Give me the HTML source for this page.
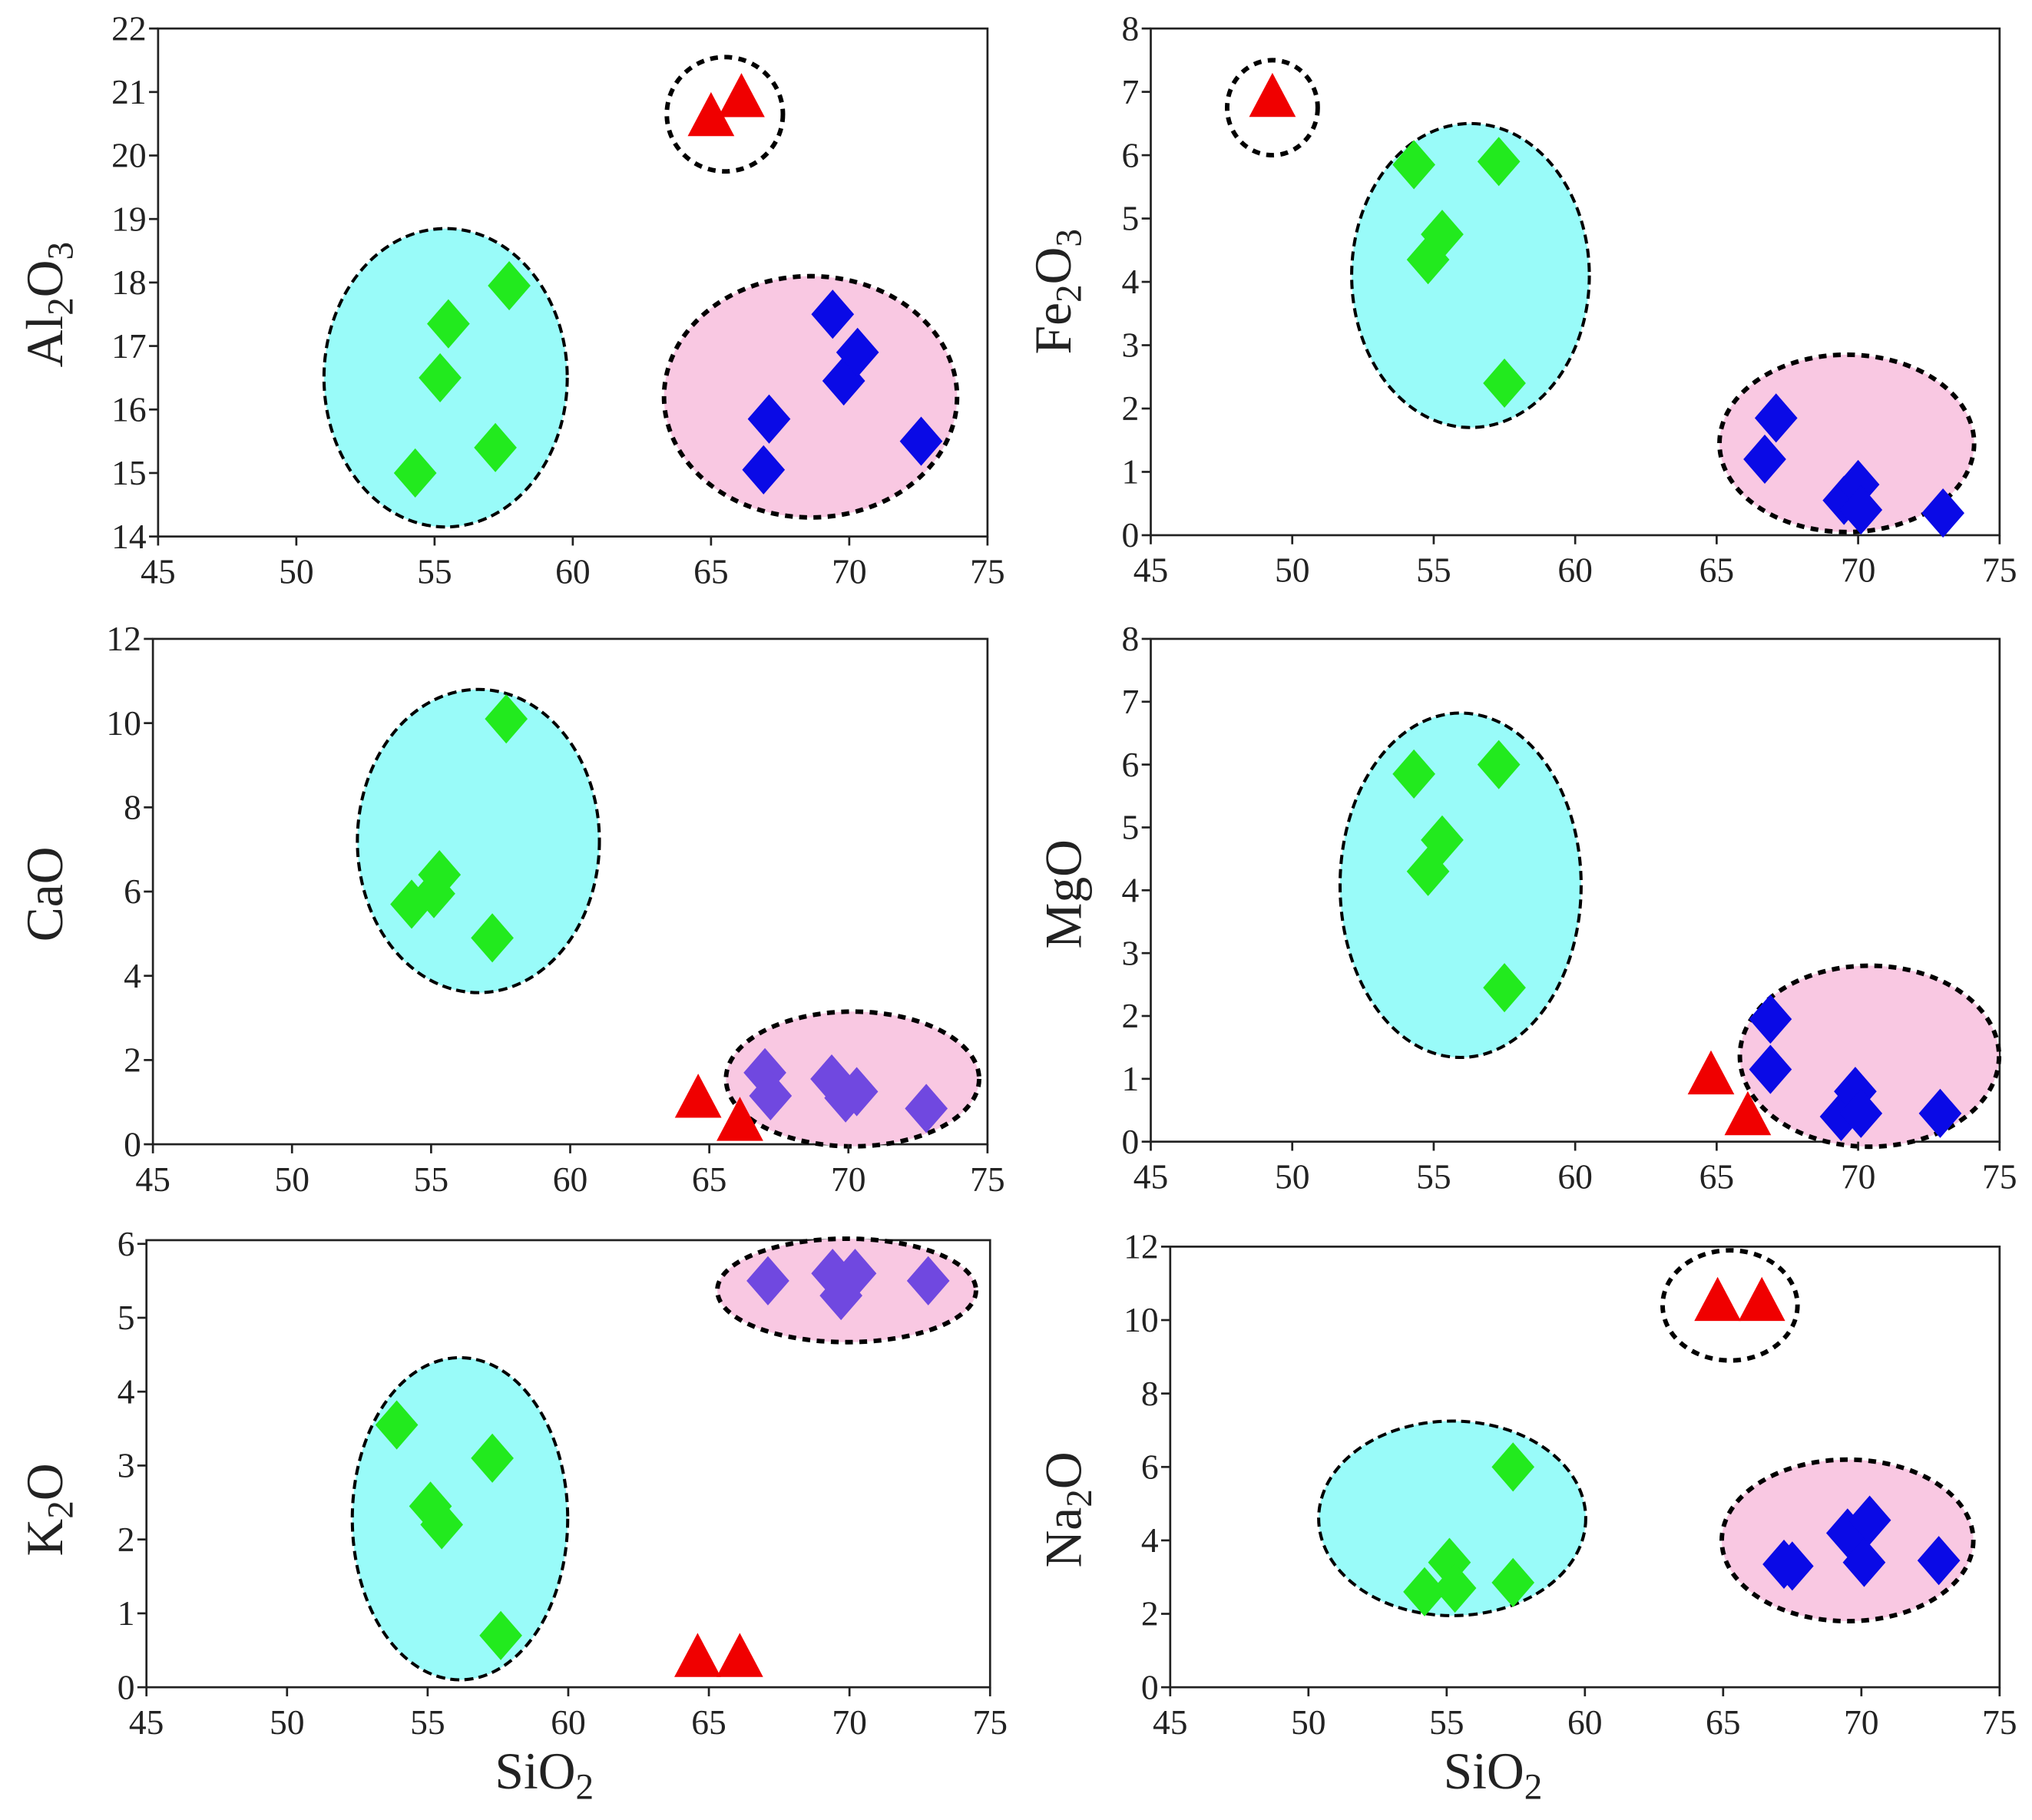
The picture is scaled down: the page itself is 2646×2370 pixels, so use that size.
<!DOCTYPE html>
<html><head><meta charset="utf-8"><style>
html,body{margin:0;padding:0;background:#fff;}
svg{display:block;font-family:"Liberation Serif",serif;}
</style></head><body>
<svg id="fig" width="2646" height="2370" viewBox="0 0 1568 1404.44" xmlns="http://www.w3.org/2000/svg"></svg>
<script>
// ---- shared x axis
const xTicks = [45,50,55,60,65,70,75];
// ---- Al2O3 panel
const alGreenX=[54.3,55.2,55.5,57.2,57.7], alGreenY=[15.0,16.5,17.35,15.4,17.95];
const alBlueX=[66.9,67.1,69.4,69.8,70.3,72.6], alBlueY=[15.05,15.85,17.5,16.45,16.9,15.5];
const alRedX=[65.0,66.1], alRedY=[20.55,20.85];
const alTicks=[14,15,16,17,18,19,20,21,22];
// ---- Fe2O3 panel
const feGreenX=[54.3,54.8,55.3,57.3,57.5], feGreenY=[5.85,4.35,4.75,5.9,2.4];
const feBlueX=[66.7,67.1,69.5,70.0,70.1,73.0], feBlueY=[1.2,1.85,0.55,0.8,0.4,0.35];
const feRedX=[49.3], feRedY=[6.85];
const feTicks=[0,1,2,3,4,5,6,7,8];
// ---- CaO panel
const caGreenX=[54.3,55.1,55.3,57.2,57.7], caGreenY=[5.7,5.95,6.4,4.9,10.1];
const caPurpleX=[67.0,67.2,69.4,69.9,70.3,72.8], caPurpleY=[1.7,1.15,1.55,1.1,1.25,0.85];
const caRedX=[64.6,66.1], caRedY=[1.0,0.45];
const caTicks=[0,2,4,6,8,10,12];
// ---- MgO panel
const mgGreenX=[54.3,54.8,55.3,57.3,57.5], mgGreenY=[5.85,4.3,4.8,6.0,2.45];
const mgBlueX=[66.9,66.9,69.4,69.9,70.1,72.9], mgBlueY=[1.95,1.15,0.4,0.8,0.45,0.45];
const mgRedX=[64.8,66.1], mgRedY=[1.0,0.35];
const mgTicks=[0,1,2,3,4,5,6,7,8];
// ---- K2O panel
const kGreenX=[53.9,55.1,55.5,57.3,57.6], kGreenY=[3.55,2.45,2.2,3.1,0.7];
const kPurpleX=[67.1,69.4,69.7,70.2,72.8], kPurpleY=[5.5,5.6,5.3,5.6,5.5];
const kRedX=[64.6,66.1], kRedY=[0.35,0.35];
const kTicks=[0,1,2,3,4,5,6];
// ---- Na2O panel
const naGreenX=[54.2,55.1,55.3,57.4,57.4], naGreenY=[2.6,3.4,2.7,6.0,2.85];
const naBlueX=[67.2,67.5,69.5,70.1,70.3,72.8], naBlueY=[3.35,3.3,4.2,3.4,4.55,3.45];
const naRedX=[64.8,66.4], naRedY=[10.4,10.4];
const naTicks=[0,2,4,6,8,10,12];

const NS="http://www.w3.org/2000/svg";
const svg=document.getElementById('fig');
function mk(tag,attrs,parent){const e=document.createElementNS(NS,tag);for(const k in attrs)e.setAttribute(k,attrs[k]);(parent||svg).appendChild(e);return e;}

const GREEN="#22ea1e", BLUE="#0a0ae6", PURPLE="#7048e0", RED="#f00000", CYAN="#99fbf9", PINK="#f9c8e2";

function panel(p){
  const g=mk('g',{});
  
  
  const sx=v=>p.x0+(v-45)/30*(p.x1-p.x0);
  const sy=v=>p.y1-(v-p.ymin)/(p.ymax-p.ymin)*(p.y1-p.y0);
  const fr=mk('rect',{x:p.x0,y:p.y0,width:p.x1-p.x0,height:p.y1-p.y0,fill:'#fff',stroke:'#222','stroke-width':1.6},g);
  
  
  // ellipses
  p.ells.forEach((el,i)=>{
    const e=mk('ellipse',{cx:sx(el[0]),cy:sy(el[1]),rx:el[2]/30*(p.x1-p.x0),ry:el[3]/(p.ymax-p.ymin)*(p.y1-p.y0),fill:el[4],stroke:'#000','stroke-width':el[5],'stroke-dasharray':el[6]},g);
    
    
  });
  // diamonds
  p.dia.forEach(s=>{
    s.x.forEach((v,i)=>{
      const cx=sx(v), cy=sy(s.y[i]);
      const d=mk('polygon',{points:`${cx},${cy-19} ${cx+16.5},${cy} ${cx},${cy+19} ${cx-16.5},${cy}`,fill:s.c},g);
      
      
    });
  });
  p.tri.x.forEach((v,i)=>{
    const cx=sx(v), cy=sy(p.tri.y[i]);
    const t=mk('polygon',{points:`${cx},${cy-22} ${cx+18},${cy+12} ${cx-18},${cy+12}`,fill:RED},g);
    
    
  });
  // axes ticks
  xTicks.forEach(v=>{
    const X=sx(v);
    mk('line',{x1:X,x2:X,y1:p.y1,y2:p.y1+7,stroke:'#222','stroke-width':1.6},g);
    const t=mk('text',{x:X,y:p.y1+36,'font-size':27,'text-anchor':'middle',fill:'#222'},g);
    t.textContent=v;
    
    
  });
  p.ticks.forEach(v=>{
    const Y=sy(v);
    mk('line',{x1:p.x0-7,x2:p.x0,y1:Y,y2:Y,stroke:'#222','stroke-width':1.6},g);
    const t=mk('text',{x:p.x0-9,y:Y+9,'font-size':27,'text-anchor':'end',fill:'#222'},g);
    t.textContent=v;
    
    
  });
  // y title
  const tt=mk('text',{transform:`translate(${p.tx},${p.ty}) rotate(-90)`,'font-size':40,'text-anchor':'middle',fill:'#222'},g);
  
  
  p.title.forEach(part=>{
    const s=mk('tspan',{},tt);
    if(part[1]){s.setAttribute('font-size',28);s.setAttribute('dy',8);} else if(part[2]){s.setAttribute('dy',-8);}
    s.textContent=part[0];
  });
}
const dashA='7 4', dashB='6 5';
panel({name:'al2o3',x0:122,x1:762,y0:22,y1:414,ymin:14,ymax:22,ticks:alTicks,tx:48,ty:235,
  title:[['Al'],['2',1],['O',0,1],['3',1]],
  ells:[[55.4,16.5,4.4,2.35,CYAN,2.4,dashA],[68.6,16.2,5.3,1.9,PINK,3.5,dashB],[65.5,20.65,2.1,0.9,'none',3.5,dashB]],
  dia:[{x:alGreenX,y:alGreenY,c:GREEN,n:'green-diamond'},{x:alBlueX,y:alBlueY,c:BLUE,n:'blue-diamond'}],
  tri:{x:alRedX,y:alRedY}});
panel({name:'fe2o3',x0:888,x1:1543,y0:22,y1:413,ymin:0,ymax:8,ticks:feTicks,tx:826,ty:225,
  title:[['Fe'],['2',1],['O',0,1],['3',1]],
  ells:[[56.3,4.1,4.2,2.4,CYAN,2.4,dashA],[69.6,1.45,4.5,1.4,PINK,3.5,dashB],[49.3,6.75,1.6,0.75,'none',3.5,dashB]],
  dia:[{x:feGreenX,y:feGreenY,c:GREEN,n:'green-diamond'},{x:feBlueX,y:feBlueY,c:BLUE,n:'blue-diamond'}],
  tri:{x:feRedX,y:feRedY}});
panel({name:'cao',x0:118,x1:762,y0:493,y1:883,ymin:0,ymax:12,ticks:caTicks,tx:48,ty:690,
  title:[['CaO']],
  ells:[[56.7,7.2,4.35,3.6,CYAN,2.4,dashA],[70.15,1.55,4.55,1.6,PINK,3.5,dashB]],
  dia:[{x:caGreenX,y:caGreenY,c:GREEN,n:'green-diamond'},{x:caPurpleX,y:caPurpleY,c:PURPLE,n:'purple-diamond'}],
  tri:{x:caRedX,y:caRedY}});
panel({name:'mgo',x0:888,x1:1543,y0:493,y1:881,ymin:0,ymax:8,ticks:mgTicks,tx:834,ty:690,
  title:[['MgO']],
  ells:[[55.95,4.08,4.26,2.74,CYAN,2.4,dashA],[70.4,1.36,4.58,1.44,PINK,3.5,dashB]],
  dia:[{x:mgGreenX,y:mgGreenY,c:GREEN,n:'green-diamond'},{x:mgBlueX,y:mgBlueY,c:BLUE,n:'blue-diamond'}],
  tri:{x:mgRedX,y:mgRedY}});
panel({name:'k2o',x0:113,x1:764,y0:957,y1:1302,ymin:0,ymax:6.05,ticks:kTicks,tx:48,ty:1165,
  title:[['K'],['2',1],['O',0,1]],
  ells:[[56.15,2.28,3.83,2.18,CYAN,2.4,dashA],[69.9,5.37,4.6,0.7,PINK,3.5,dashB]],
  dia:[{x:kGreenX,y:kGreenY,c:GREEN,n:'green-diamond'},{x:kPurpleX,y:kPurpleY,c:PURPLE,n:'purple-diamond'}],
  tri:{x:kRedX,y:kRedY}});
panel({name:'na2o',x0:903,x1:1543,y0:962,y1:1302,ymin:0,ymax:12,ticks:naTicks,tx:834,ty:1165,
  title:[['Na'],['2',1],['O',0,1]],
  ells:[[55.2,4.6,4.83,2.65,CYAN,2.4,dashA],[69.5,4.0,4.55,2.2,PINK,3.5,dashB],[65.25,10.4,2.44,1.5,'none',3.5,dashB]],
  dia:[{x:naGreenX,y:naGreenY,c:GREEN,n:'green-diamond'},{x:naBlueX,y:naBlueY,c:BLUE,n:'blue-diamond'}],
  tri:{x:naRedX,y:naRedY}});
// x-axis titles
[[420,1380,'left'],[1152,1380,'right']].forEach(a=>{
  const t=mk('text',{x:a[0],y:a[1],'font-size':40,'text-anchor':'middle',fill:'#222'});
  
  
  const s1=mk('tspan',{},t); s1.textContent='SiO';
  const s2=mk('tspan',{'font-size':28,dy:8},t); s2.textContent='2';
});
</script>
</body></html>
